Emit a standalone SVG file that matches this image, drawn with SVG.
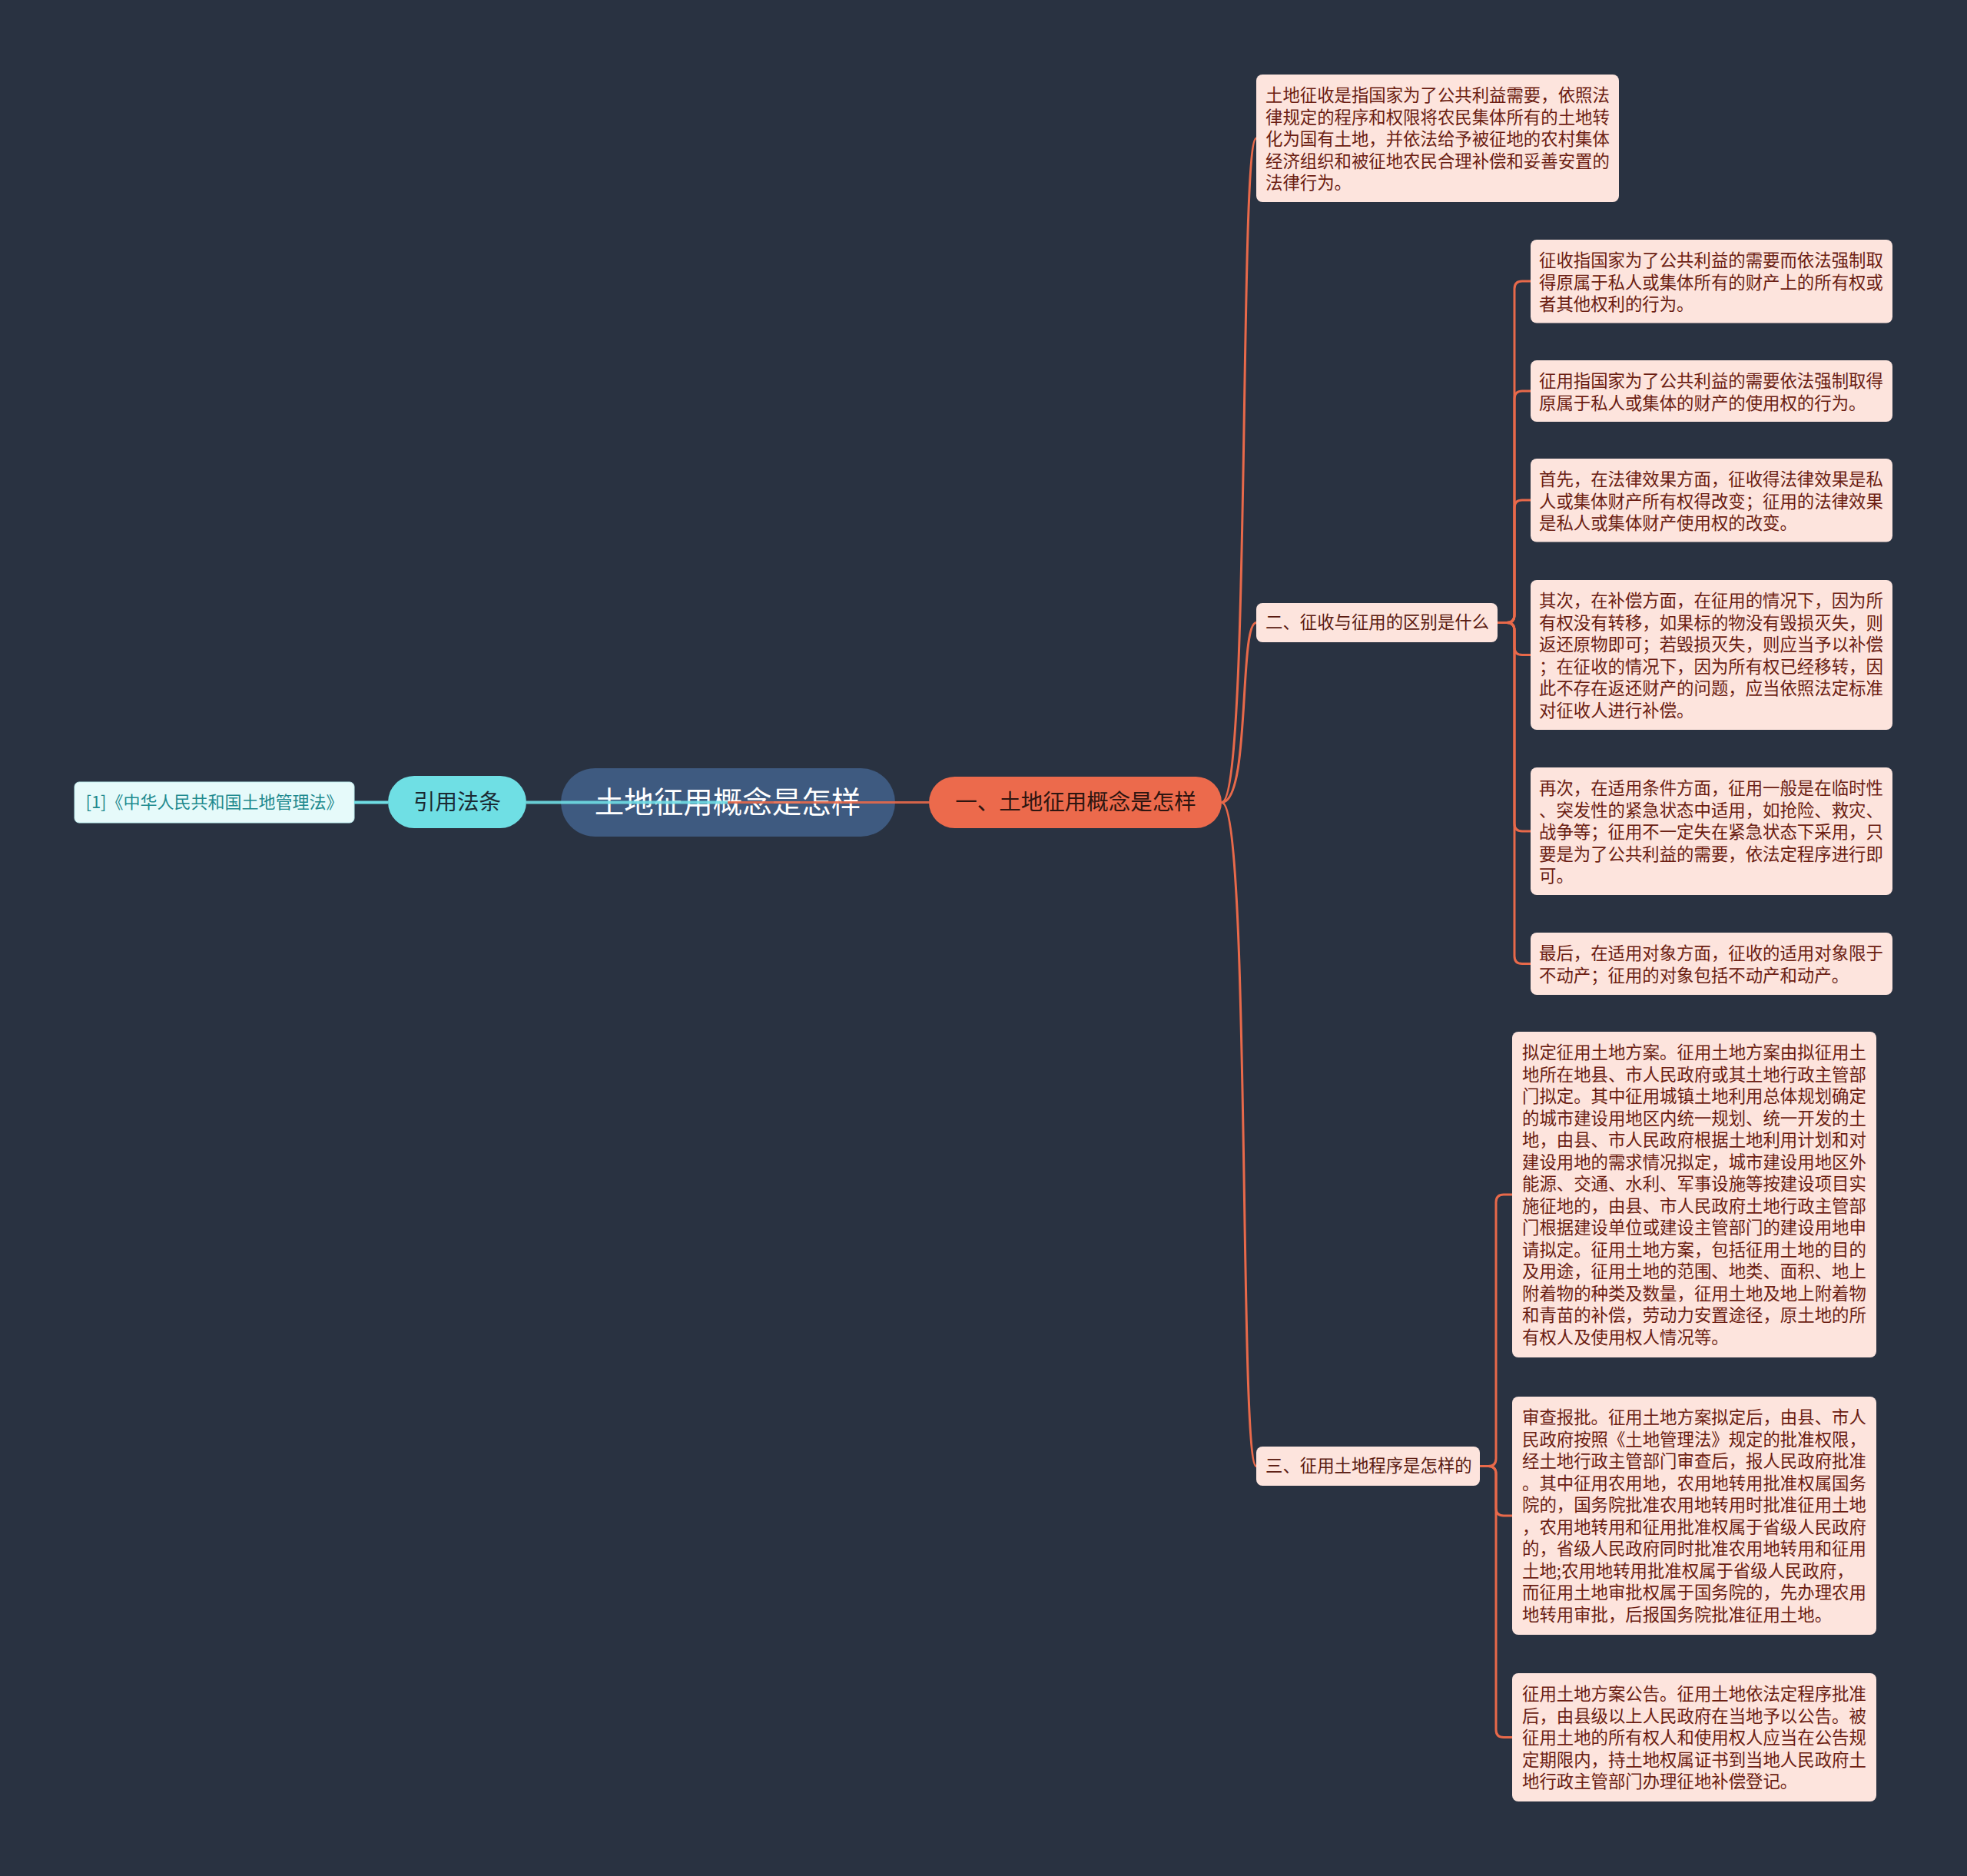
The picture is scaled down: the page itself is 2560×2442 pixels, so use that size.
<svg xmlns="http://www.w3.org/2000/svg" width="2560" height="2442" viewBox="0 0 2560 2442">
<style>
text{font-family:"Noto Sans CJK SC","Noto Sans",sans-serif;}
.box{fill:#fde4dd;}
.bt{font-size:22.4px;fill:#6b1d12;}
.lbl{font-size:22.4px;fill:#5a1a10;}
.orl{fill:none;stroke:#e8694a;stroke-width:3;}
.cyl{fill:none;stroke:#6fdde3;stroke-width:4;}
</style>
<rect width="2560" height="2442" fill="#293241"/>

<g id="root">
<rect x="730" y="1000" width="435" height="89" rx="44.5" fill="#3e5a80"/>
<text x="947" y="1058" font-size="38.5" fill="#ffffff" text-anchor="middle">土地征用概念是怎样</text>
</g>

<g id="cite">
<rect x="505" y="1010" width="180" height="68" rx="34" fill="#6fdfe4"/>
<text x="595" y="1054" font-size="28.5" fill="#1b2b33" text-anchor="middle">引用法条</text>
</g>

<g id="cite-law">
<rect x="97" y="1018" width="364" height="53" rx="6" fill="#e6fafa" stroke="#bfeef0" stroke-width="1"/>
<text x="279" y="1052" font-size="22" fill="#1f8a8f" text-anchor="middle">[1]《中华人民共和国土地管理法》</text>
</g>

<g id="main1">
<rect x="1209" y="1011" width="381" height="67" rx="33.5" fill="#ec6a4c"/>
<text x="1400" y="1054" font-size="28.5" fill="#2e1510" text-anchor="middle">一、土地征用概念是怎样</text>
</g>

<g id="nodeA">
<rect class="box" x="1635" y="97" width="472" height="166" rx="8"/>
<text class="bt" x="1647" y="132"><tspan x="1647">土地征收是指国家为了公共利益需要，依照法</tspan><tspan x="1647" dy="28.5">律规定的程序和权限将农民集体所有的土地转</tspan><tspan x="1647" dy="28.5">化为国有土地，并依法给予被征地的农村集体</tspan><tspan x="1647" dy="28.5">经济组织和被征地农民合理补偿和妥善安置的</tspan><tspan x="1647" dy="28.5">法律行为。</tspan></text>
</g>

<g id="nodeB">
<rect class="box" x="1635" y="785" width="314" height="51" rx="8"/>
<text class="lbl" x="1647" y="818">二、征收与征用的区别是什么</text>
</g>

<g id="nodeC">
<rect class="box" x="1635" y="1883" width="291" height="51" rx="8"/>
<text class="lbl" x="1647" y="1916">三、征用土地程序是怎样的</text>
</g>

<g id="nodeB1">
<rect class="box" x="1992" y="312" width="471" height="108.5" rx="8"/>
<text class="bt" x="2003" y="347"><tspan x="2003">征收指国家为了公共利益的需要而依法强制取</tspan><tspan x="2003" dy="28.5">得原属于私人或集体所有的财产上的所有权或</tspan><tspan x="2003" dy="28.5">者其他权利的行为。</tspan></text>
</g>

<g id="nodeB2">
<rect class="box" x="1992" y="469" width="471" height="80" rx="8"/>
<text class="bt" x="2003" y="504"><tspan x="2003">征用指国家为了公共利益的需要依法强制取得</tspan><tspan x="2003" dy="28.5">原属于私人或集体的财产的使用权的行为。</tspan></text>
</g>

<g id="nodeB3">
<rect class="box" x="1992" y="597" width="471" height="108.5" rx="8"/>
<text class="bt" x="2003" y="632"><tspan x="2003">首先，在法律效果方面，征收得法律效果是私</tspan><tspan x="2003" dy="28.5">人或集体财产所有权得改变；征用的法律效果</tspan><tspan x="2003" dy="28.5">是私人或集体财产使用权的改变。</tspan></text>
</g>

<g id="nodeB4">
<rect class="box" x="1992" y="755" width="471" height="195" rx="8"/>
<text class="bt" x="2003" y="790"><tspan x="2003">其次，在补偿方面，在征用的情况下，因为所</tspan><tspan x="2003" dy="28.5">有权没有转移，如果标的物没有毁损灭失，则</tspan><tspan x="2003" dy="28.5">返还原物即可；若毁损灭失，则应当予以补偿</tspan><tspan x="2003" dy="28.5">；在征收的情况下，因为所有权已经移转，因</tspan><tspan x="2003" dy="28.5">此不存在返还财产的问题，应当依照法定标准</tspan><tspan x="2003" dy="28.5">对征收人进行补偿。</tspan></text>
</g>

<g id="nodeB5">
<rect class="box" x="1992" y="999" width="471" height="166" rx="8"/>
<text class="bt" x="2003" y="1034"><tspan x="2003">再次，在适用条件方面，征用一般是在临时性</tspan><tspan x="2003" dy="28.5">、突发性的紧急状态中适用，如抢险、救灾、</tspan><tspan x="2003" dy="28.5">战争等；征用不一定失在紧急状态下采用，只</tspan><tspan x="2003" dy="28.5">要是为了公共利益的需要，依法定程序进行即</tspan><tspan x="2003" dy="28.5">可。</tspan></text>
</g>

<g id="nodeB6">
<rect class="box" x="1992" y="1214" width="471" height="81" rx="8"/>
<text class="bt" x="2003" y="1249"><tspan x="2003">最后，在适用对象方面，征收的适用对象限于</tspan><tspan x="2003" dy="28.5">不动产；征用的对象包括不动产和动产。</tspan></text>
</g>

<g id="nodeC1">
<rect class="box" x="1968" y="1343" width="474" height="424" rx="8"/>
<text class="bt" x="1981" y="1378"><tspan x="1981">拟定征用土地方案。征用土地方案由拟征用土</tspan><tspan x="1981" dy="28.5">地所在地县、市人民政府或其土地行政主管部</tspan><tspan x="1981" dy="28.5">门拟定。其中征用城镇土地利用总体规划确定</tspan><tspan x="1981" dy="28.5">的城市建设用地区内统一规划、统一开发的土</tspan><tspan x="1981" dy="28.5">地，由县、市人民政府根据土地利用计划和对</tspan><tspan x="1981" dy="28.5">建设用地的需求情况拟定，城市建设用地区外</tspan><tspan x="1981" dy="28.5">能源、交通、水利、军事设施等按建设项目实</tspan><tspan x="1981" dy="28.5">施征地的，由县、市人民政府土地行政主管部</tspan><tspan x="1981" dy="28.5">门根据建设单位或建设主管部门的建设用地申</tspan><tspan x="1981" dy="28.5">请拟定。征用土地方案，包括征用土地的目的</tspan><tspan x="1981" dy="28.5">及用途，征用土地的范围、地类、面积、地上</tspan><tspan x="1981" dy="28.5">附着物的种类及数量，征用土地及地上附着物</tspan><tspan x="1981" dy="28.5">和青苗的补偿，劳动力安置途径，原土地的所</tspan><tspan x="1981" dy="28.5">有权人及使用权人情况等。</tspan></text>
</g>

<g id="nodeC2">
<rect class="box" x="1968" y="1818" width="474" height="310" rx="8"/>
<text class="bt" x="1981" y="1853"><tspan x="1981">审查报批。征用土地方案拟定后，由县、市人</tspan><tspan x="1981" dy="28.5">民政府按照《土地管理法》规定的批准权限，</tspan><tspan x="1981" dy="28.5">经土地行政主管部门审查后，报人民政府批准</tspan><tspan x="1981" dy="28.5">。其中征用农用地，农用地转用批准权属国务</tspan><tspan x="1981" dy="28.5">院的，国务院批准农用地转用时批准征用土地</tspan><tspan x="1981" dy="28.5">，农用地转用和征用批准权属于省级人民政府</tspan><tspan x="1981" dy="28.5">的，省级人民政府同时批准农用地转用和征用</tspan><tspan x="1981" dy="28.5">土地;农用地转用批准权属于省级人民政府，</tspan><tspan x="1981" dy="28.5">而征用土地审批权属于国务院的，先办理农用</tspan><tspan x="1981" dy="28.5">地转用审批，后报国务院批准征用土地。</tspan></text>
</g>

<g id="nodeC3">
<rect class="box" x="1968" y="2178" width="474" height="167" rx="8"/>
<text class="bt" x="1981" y="2213"><tspan x="1981">征用土地方案公告。征用土地依法定程序批准</tspan><tspan x="1981" dy="28.5">后，由县级以上人民政府在当地予以公告。被</tspan><tspan x="1981" dy="28.5">征用土地的所有权人和使用权人应当在公告规</tspan><tspan x="1981" dy="28.5">定期限内，持土地权属证书到当地人民政府土</tspan><tspan x="1981" dy="28.5">地行政主管部门办理征地补偿登记。</tspan></text>
</g>

<g id="connectors">
<path class="cyl" d="M461,1044.5 H505"/>
<path class="cyl" d="M685,1044.5 H947" opacity="0.9"/>
<path class="orl" d="M947,1044.5 H1209" opacity="0.9"/>
<path class="orl" d="M1590,1044.5 C1628,1044.5 1612,180 1635,180"/>
<path class="orl" d="M1590,1044.5 C1628,1044.5 1612,810.5 1635,810.5"/>
<path class="orl" d="M1590,1044.5 C1628,1044.5 1612,1908.5 1635,1908.5"/>
<path class="orl" d="M1949,810.5 H1961 Q1971,810.5 1971,800.5 V376 Q1971,366 1981,366 H1992"/>
<path class="orl" d="M1949,810.5 H1961 Q1971,810.5 1971,800.5 V519 Q1971,509 1981,509 H1992"/>
<path class="orl" d="M1949,810.5 H1961 Q1971,810.5 1971,800.5 V661 Q1971,651 1981,651 H1992"/>
<path class="orl" d="M1949,810.5 H1961 Q1971,810.5 1971,820.5 V842.5 Q1971,852.5 1981,852.5 H1992"/>
<path class="orl" d="M1949,810.5 H1961 Q1971,810.5 1971,820.5 V1072 Q1971,1082 1981,1082 H1992"/>
<path class="orl" d="M1949,810.5 H1961 Q1971,810.5 1971,820.5 V1244.5 Q1971,1254.5 1981,1254.5 H1992"/>
<path class="orl" d="M1926,1908.5 H1937 Q1947,1908.5 1947,1898.5 V1565 Q1947,1555 1957,1555 H1968"/>
<path class="orl" d="M1926,1908.5 H1937 Q1947,1908.5 1947,1918.5 V1963 Q1947,1973 1957,1973 H1968"/>
<path class="orl" d="M1926,1908.5 H1937 Q1947,1908.5 1947,1918.5 V2251.5 Q1947,2261.5 1957,2261.5 H1968"/>
</g>
</svg>
